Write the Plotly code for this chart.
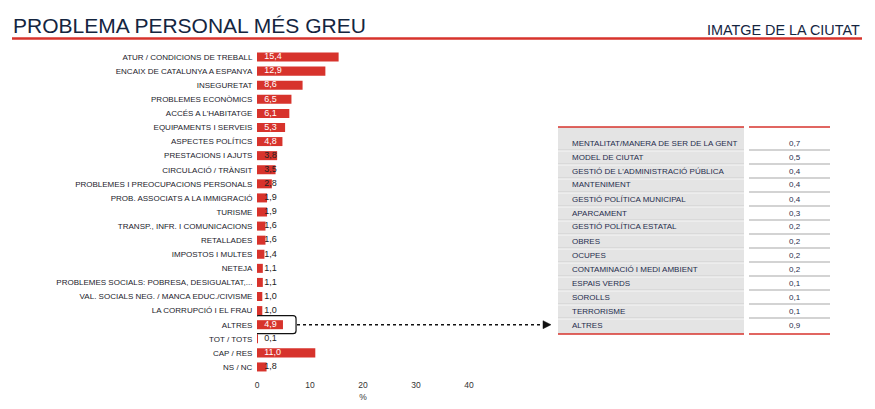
import plotly.graph_objects as go

# ---------------- data ----------------
categories = [
    "ATUR / CONDICIONS DE TREBALL",
    "ENCAIX DE CATALUNYA A ESPANYA",
    "INSEGURETAT",
    "PROBLEMES ECONÒMICS",
    "ACCÉS A L'HABITATGE",
    "EQUIPAMENTS I SERVEIS",
    "ASPECTES POLÍTICS",
    "PRESTACIONS I AJUTS",
    "CIRCULACIÓ / TRÀNSIT",
    "PROBLEMES I PREOCUPACIONS PERSONALS",
    "PROB. ASSOCIATS A LA IMMIGRACIÓ",
    "TURISME",
    "TRANSP., INFR. I COMUNICACIONS",
    "RETALLADES",
    "IMPOSTOS I MULTES",
    "NETEJA",
    "PROBLEMES SOCIALS: POBRESA, DESIGUALTAT,...",
    "VAL. SOCIALS NEG. / MANCA EDUC./CIVISME",
    "LA CORRUPCIÓ I EL FRAU",
    "ALTRES",
    "TOT / TOTS",
    "CAP / RES",
    "NS / NC",
]
values = [15.4, 12.9, 8.6, 6.5, 6.1, 5.3, 4.8, 3.8, 3.5, 2.8, 1.9, 1.9, 1.6, 1.6,
          1.4, 1.1, 1.1, 1.0, 1.0, 4.9, 0.1, 11.0, 1.8]

x_ticks = [0, 10, 20, 30, 40]

table_labels = [
    "MENTALITAT/MANERA DE SER DE LA GENT",
    "MODEL DE CIUTAT",
    "GESTIÓ DE L'ADMINISTRACIÓ PÚBLICA",
    "MANTENIMENT",
    "GESTIÓ POLÍTICA MUNICIPAL",
    "APARCAMENT",
    "GESTIÓ POLÍTICA ESTATAL",
    "OBRES",
    "OCUPES",
    "CONTAMINACIÓ I MEDI AMBIENT",
    "ESPAIS VERDS",
    "SOROLLS",
    "TERRORISME",
    "ALTRES",
]
table_values = [0.7, 0.5, 0.4, 0.4, 0.4, 0.3, 0.2, 0.2, 0.2, 0.2, 0.1, 0.1, 0.1, 0.9]

title_text = "PROBLEMA PERSONAL MÉS GREU"
subtitle_text = "IMATGE DE LA CIUTAT"
highlight = "ALTRES"

# ---------------- style ----------------
# the page body has an 8px margin, so the figure is drawn 8px in from the
# window's corner; layout positions below are given in window pixels.
OFF = 8
W, H = 875 - OFF, 409 - OFF
FONT = "Liberation Sans, Arial, sans-serif"
RED = "#d7332c"
NAVY = "#14253f"
TXT = "#1b1b2b"


def px(x):
    return (x - OFF) / W


def py(y):
    return 1 - (y - OFF) / H


def fmt(v):
    return f"{v:.1f}".replace(".", ",")


n = len(categories)
fig = go.Figure()

fig.add_trace(go.Bar(
    y=categories, x=values, orientation="h",
    marker=dict(color=RED, line_width=0),
    width=0.64, hoverinfo="skip", showlegend=False,
))
fig.add_trace(go.Scatter(
    y=categories, x=[0] * n, mode="markers+text",
    marker=dict(size=10, opacity=0),
    text=[fmt(v) for v in values],
    textposition="middle right",
    textfont=dict(family=FONT, size=9,
                  color=["white" if v >= 4 else "#222222" for v in values]),
    cliponaxis=False, hoverinfo="skip", showlegend=False,
))

fig.update_layout(
    width=W, height=H, autosize=False,
    margin=dict(l=0, r=0, t=0, b=0),
    paper_bgcolor="white", plot_bgcolor="white",
    separators=",.",
    font=dict(family=FONT, color=TXT),
    xaxis=dict(
        domain=[px(257), px(469)], range=[0, 40],
        tickvals=x_ticks, ticktext=[str(t) for t in x_ticks],
        showgrid=False, zeroline=False, showline=False,
        ticks="outside", ticklen=3, tickcolor="rgba(0,0,0,0)",
        tickfont=dict(size=8.5, color="#333333"),
        title=dict(text="%", font=dict(size=8.5, color="#333333"), standoff=4),
        automargin=False,
    ),
    yaxis=dict(
        domain=[py(374), py(50)], range=[n - 0.5, -0.5],
        type="category", categoryorder="array", categoryarray=categories,
        showgrid=False, zeroline=False, showline=False,
        ticks="outside", ticklen=2, tickcolor="rgba(0,0,0,0)",
        tickfont=dict(size=8, color=TXT),
        automargin=False,
    ),
)

shapes = []
annotations = []

# title & header line
annotations.append(dict(text=title_text, xref="paper", yref="paper",
                        x=px(11), y=py(25), xanchor="left", yanchor="middle",
                        showarrow=False, font=dict(size=21, color=NAVY, family=FONT)))
annotations.append(dict(text=subtitle_text, xref="paper", yref="paper",
                        x=px(862), y=py(30), xanchor="right", yanchor="middle",
                        showarrow=False, font=dict(size=14.4, color=NAVY, family=FONT)))
shapes.append(dict(type="line", xref="paper", yref="paper",
                   x0=px(12), x1=px(862), y0=py(38.5), y1=py(38.5),
                   line=dict(color=RED, width=2.5)))

# highlight box around ALTRES bar
hi = categories.index(highlight)
shapes.append(dict(
    type="path", xref="x", yref="y", xsizemode="pixel", ysizemode="pixel",
    xanchor=3.5, yanchor=hi,
    path="M -20.5,-6 L -20.5,6 Q -20.5,9 -17.5,9 L 17.5,9 Q 20.5,9 20.5,6 "
         "L 20.5,-6 Q 20.5,-9 17.5,-9 L -17.5,-9 Q -20.5,-9 -20.5,-6 Z",
    line=dict(color="#111111", width=1.2),
))
# dotted arrow
shapes.append(dict(type="line", xref="paper", yref="y",
                   x0=px(297), x1=px(545), y0=hi, y1=hi,
                   line=dict(color="#111111", width=1.5, dash="dot")))
shapes.append(dict(type="path", xref="paper", yref="y",
                   xsizemode="pixel", ysizemode="pixel",
                   xanchor=px(551), yanchor=hi,
                   path="M 0,0 L -8,4 L -8,-4 Z",
                   fillcolor="#111111", line=dict(color="#111111", width=0.5)))

# table
T_L0, T_L1 = 558, 744
T_R0, T_R1 = 749, 830
T_TOP, T_BOT = 127, 334
ROW0, ROWH = 143, 14
m = len(table_labels)
shapes.append(dict(type="rect", xref="paper", yref="paper",
                   x0=px(T_L0), x1=px(T_L1), y0=py(T_BOT), y1=py(T_TOP),
                   fillcolor="#e4e4e4", line=dict(width=0), layer="below"))
for i in range(m - 1):
    ysep = ROW0 + ROWH * i + 7
    shapes.append(dict(type="line", xref="paper", yref="paper",
                       x0=px(T_L0), x1=px(T_L1), y0=py(ysep), y1=py(ysep),
                       line=dict(color="#cfcfcf", width=1)))
    shapes.append(dict(type="line", xref="paper", yref="paper",
                       x0=px(T_L0), x1=px(T_L1), y0=py(ysep + 1), y1=py(ysep + 1),
                       line=dict(color="#f6f6f6", width=1)))
    shapes.append(dict(type="line", xref="paper", yref="paper",
                       x0=px(T_R0), x1=px(T_R1), y0=py(ysep), y1=py(ysep),
                       line=dict(color="#c4c4c4", width=1.5)))
for yy in (T_TOP, T_BOT):
    for a, b in ((T_L0, T_L1), (T_R0, T_R1)):
        shapes.append(dict(type="line", xref="paper", yref="paper",
                           x0=px(a), x1=px(b), y0=py(yy), y1=py(yy),
                           line=dict(color=RED, width=1.5)))
for i, (lab, val) in enumerate(zip(table_labels, table_values)):
    yc = ROW0 + ROWH * i
    annotations.append(dict(text=lab, xref="paper", yref="paper",
                            x=px(570), y=py(yc), xanchor="left", yanchor="middle",
                            showarrow=False, font=dict(size=8, color="#1f2d4d", family=FONT)))
    annotations.append(dict(text=fmt(val), xref="paper", yref="paper",
                            x=px(795), y=py(yc), xanchor="center", yanchor="middle",
                            showarrow=False, font=dict(size=8, color="#1f2d4d", family=FONT)))

fig.update_layout(shapes=shapes, annotations=annotations)
fig.write_html("out.html")
